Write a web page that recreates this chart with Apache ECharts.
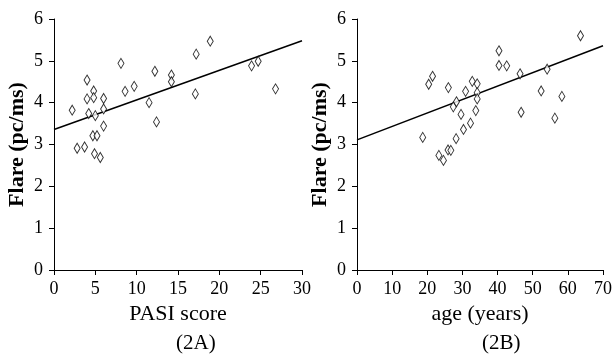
<!DOCTYPE html>
<html>
<head>
<meta charset="utf-8">
<script src="https://cdn.jsdelivr.net/npm/echarts@6/dist/echarts.min.js"></script>
<style>
  html, body { margin: 0; padding: 0; background: #fff; }
  #chart { width: 615px; height: 356px; }
</style>
</head>
<body>
<div id="chart"></div>
<script>
// panel 2A: flare vs PASI score
const pasiScore = [2.2, 2.8, 3.7, 4.0, 4.0, 4.2, 4.8, 4.8, 5.0, 4.7, 5.2, 4.9, 5.6, 6.0, 6.0, 6.0,
  8.1, 8.6, 9.7, 11.5, 12.2, 12.4, 14.2, 14.2, 17.2, 17.1, 18.9, 23.9, 24.7, 26.8]
const pasiFlare = [3.82, 2.91, 2.94, 4.54, 4.09, 3.74, 4.28, 4.12, 3.69, 3.21, 3.21, 2.78, 2.69, 4.10, 3.85, 3.44,
  4.94, 4.27, 4.39, 4.00, 4.75, 3.54, 4.66, 4.50, 5.16, 4.21, 5.47, 4.88, 4.99, 4.33]
const pasiFitX = [0, 30]
const pasiFitY = [3.36, 5.48]

// panel 2B: flare vs age
const ageYears = [18.7, 20.4, 21.5, 23.3, 24.6, 26.0, 25.9, 26.7, 27.4, 28.3, 28.2, 29.6, 30.3, 30.9, 32.3,
  32.8, 33.8, 34.2, 34.2, 34.2, 40.4, 40.4, 42.6, 46.4, 46.7, 52.4, 54.1, 56.3, 58.3, 63.6]
const ageFlare = [3.17, 4.44, 4.63, 2.74, 2.62, 4.36, 2.87, 2.86, 3.90, 4.02, 3.14, 3.72, 3.36, 4.27, 3.51,
  4.51, 3.81, 4.45, 4.24, 4.09, 5.24, 4.89, 4.88, 4.69, 3.77, 4.28, 4.80, 3.63, 4.15, 5.60]
const ageFitX = [0, 70]
const ageFitY = [3.11, 5.36]

const yTicks = { min: 0, max: 6, interval: 1 }

const font = 'Liberation Serif'
const zip = (xs, ys) => xs.map((x, i) => [x, ys[i]])

const chart = echarts.init(document.getElementById('chart'))

const axisLine = { show: true, lineStyle: { color: '#000', width: 1 } }
const axisTick = { show: true, inside: false, length: 5, lineStyle: { color: '#000', width: 1 } }

const yAxis = (gridIndex) => ({
  type: 'value',
  gridIndex,
  min: yTicks.min,
  max: yTicks.max,
  interval: yTicks.interval,
  name: 'Flare (pc/ms)',
  nameLocation: 'middle',
  nameGap: 26,
  nameTextStyle: { fontFamily: font, fontSize: 22, fontWeight: 'bold', color: '#000' },
  axisLine,
  axisTick,
  splitLine: { show: false },
  axisLabel: { fontFamily: font, fontSize: 18, color: '#000', margin: 11 },
})

const xAxis = (gridIndex, max, interval, name) => ({
  type: 'value',
  gridIndex,
  min: 0,
  max,
  interval,
  name,
  nameLocation: 'middle',
  nameGap: 24,
  nameTextStyle: { fontFamily: font, fontSize: 22, color: '#000' },
  axisLine,
  axisTick,
  splitLine: { show: false },
  axisLabel: { fontFamily: font, fontSize: 18, color: '#000', margin: 10 },
})

const scatter = (idx, data) => ({
  type: 'scatter',
  xAxisIndex: idx,
  yAxisIndex: idx,
  data,
  symbol: 'diamond',
  symbolSize: [6, 10],
  itemStyle: { color: '#fff', borderColor: '#000', borderWidth: 1 },
  z: 3,
})

const fitLine = (idx, data) => ({
  type: 'line',
  xAxisIndex: idx,
  yAxisIndex: idx,
  data,
  symbol: 'none',
  lineStyle: { color: '#000', width: 1.5 },
  z: 2,
})

chart.setOption({
  animation: false,
  backgroundColor: '#fff',
  grid: [
    { left: 54, right: 313, top: 19, bottom: 86 },
    { left: 357, right: 8, top: 19, bottom: 86 },
  ],
  xAxis: [
    xAxis(0, 30, 5, 'PASI score'),
    xAxis(1, 70, 10, 'age (years)'),
  ],
  yAxis: [yAxis(0), yAxis(1)],
  graphic: [
    { type: 'text', left: 176, top: 333, style: { text: '(2A)', font: '21px "Liberation Serif"', fill: '#000', textAlign: 'center' } },
    { type: 'text', left: 482, top: 333, style: { text: '(2B)', font: '21px "Liberation Serif"', fill: '#000', textAlign: 'center' } },
  ],
  series: [
    fitLine(0, zip(pasiFitX, pasiFitY)),
    scatter(0, zip(pasiScore, pasiFlare)),
    fitLine(1, zip(ageFitX, ageFitY)),
    scatter(1, zip(ageYears, ageFlare)),
  ],
})
</script>
</body>
</html>
